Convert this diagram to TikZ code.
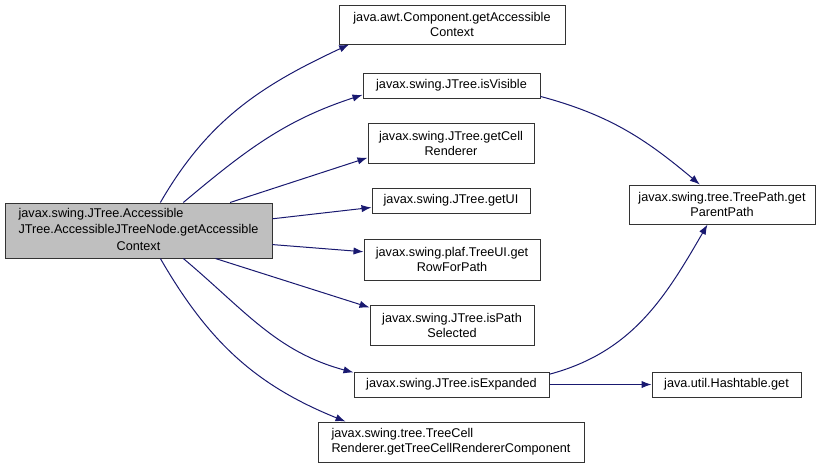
\documentclass[tikz,border=0pt]{standalone}
\usepackage{fontspec}
\setmainfont{Liberation Sans}
\usetikzlibrary{arrows.meta}
\definecolor{edgeblue}{HTML}{191970}
\definecolor{callerfill}{HTML}{BFBFBF}
\renewcommand{\arraystretch}{1.12}
\tikzstyle{line} = [draw=edgeblue, line width=0.75pt, -{Latex[length=7.5pt, width=5.5pt]}]
\tikzstyle{func} = [rectangle, draw=black!80, line width=0.75pt, fill=white, align=center, inner sep=0pt, font=\fontsize{9.5}{11.25}\selectfont]
\tikzstyle{caller} = [func, fill=callerfill]
\begin{document}
\begin{tikzpicture}[x=0.75pt, y=-0.75pt]
	\useasboundingbox (0,0) rectangle (828,469);
	\node [caller, minimum width=200.25pt, minimum height=41.25pt] (main) at (138.5,230.5) {\begin{tabular}{@{}l@{}}javax.swing.JTree.Accessible\\JTree.AccessibleJTreeNode.getAccessible\\\multicolumn{1}{@{}c@{}}{Context}\end{tabular}};
	
	\node [func, minimum width=169.5pt, minimum height=29.25pt] (getctx) at (452,24.5) {java.awt.Component.getAccessible\\Context};
	\node [func, minimum width=132.75pt, minimum height=18.75pt] (isvis) at (451.5,85.5) {javax.swing.JTree.isVisible};
	\node [func, minimum width=124.5pt, minimum height=30pt] (getrend) at (451,143) {javax.swing.JTree.getCell\\Renderer};
	\node [func, minimum width=118.5pt, minimum height=18.75pt] (getui) at (451,200.5) {javax.swing.JTree.getUI};
	\node [func, minimum width=132pt, minimum height=30.75pt] (getrow) at (452,259.5) {javax.swing.plaf.TreeUI.get\\RowForPath};
	\node [func, minimum width=123pt, minimum height=30pt] (issel) at (452,325) {javax.swing.JTree.isPath\\Selected};
	\node [func, minimum width=146.25pt, minimum height=18.75pt] (isexp) at (451.5,384.5) {javax.swing.JTree.isExpanded};
	\node [func, align=left, minimum width=199.5pt, minimum height=30pt] (getcomp) at (451,442) {javax.swing.tree.TreeCell\\Renderer.getTreeCellRendererComponent};
	
	\node [func, minimum width=139.5pt, minimum height=29.25pt] (parent) at (722,204.5) {javax.swing.tree.TreePath.get\\ParentPath};
	\node [func, minimum width=111.75pt, minimum height=18.75pt] (hashget) at (726.5,384.5) {java.util.Hashtable.get};
	
	\path [line] (main.52) to[out=60, in=205] (getctx.191);
	\path [line] (main.32) to[out=40, in=198] (isvis.186);
	\path [line] (main.17) -- (getrend.190);
	\path [line] (main.5) -- (getui.185);
	\path [line] (main.-6) -- (getrow.175);
	\path [line] (main.-20) -- (issel.168);
	\path [line] (main.-32) to[out=-40, in=165] (isexp.173);
	\path [line] (main.-52) to[out=-60, in=158] (getcomp.169);
	\path [line] (isvis.-7) to[out=-15, in=140] (parent.138);
	\path [line] (isexp.6) to[out=15, in=-120] (parent.234);
	\path [line] (isexp) -- (hashget);
\end{tikzpicture}
\end{document}
